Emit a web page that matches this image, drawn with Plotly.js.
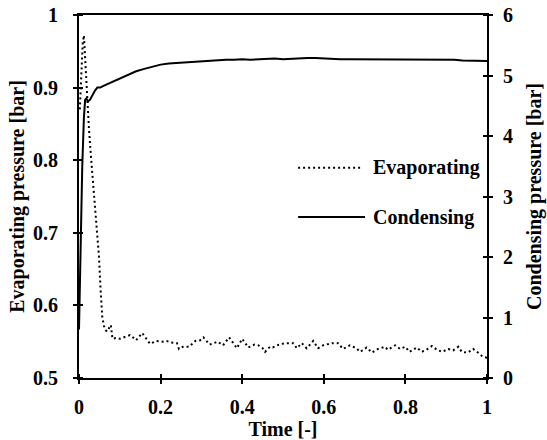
<!DOCTYPE html>
<html>
<head>
<meta charset="utf-8">
<script src="https://cdn.plot.ly/plotly-3.0.1.min.js"></script>
<style>html,body{margin:0;padding:0;background:#fff;}#chart{width:547px;height:440px;}</style>
</head>
<body>
<div id="chart"></div>
<script>
// Evaporating pressure [bar] (left axis)
const evapTime = [
  0.002, 0.006, 0.009, 0.012, 0.016, 0.020, 0.0245, 0.030, 0.037, 0.043,
  0.049, 0.053, 0.057, 0.061, 0.065, 0.069, 0.074, 0.078, 0.082, 0.090,
  0.100, 0.110, 0.125, 0.130, 0.140, 0.155, 0.174, 0.190, 0.205, 0.215,
  0.225, 0.240, 0.245, 0.255, 0.270, 0.285, 0.297, 0.305, 0.320, 0.340,
  0.353, 0.368, 0.387, 0.400, 0.415, 0.430, 0.440, 0.450, 0.456, 0.468,
  0.475, 0.490, 0.505, 0.525, 0.534, 0.546, 0.558, 0.574, 0.586, 0.598,
  0.610, 0.620, 0.635, 0.647, 0.664, 0.680, 0.689, 0.705, 0.718, 0.733,
  0.750, 0.757, 0.775, 0.787, 0.800, 0.810, 0.828, 0.840, 0.852, 0.865,
  0.877, 0.890, 0.905, 0.917, 0.930, 0.938, 0.953, 0.966, 0.978, 0.990,
  1.000
];
const evapPressure = [
  0.870, 0.930, 0.960, 0.972, 0.930, 0.883, 0.842, 0.800, 0.750, 0.710,
  0.667, 0.621, 0.584, 0.572, 0.566, 0.564, 0.568, 0.573, 0.554, 0.555,
  0.554, 0.556, 0.559, 0.557, 0.552, 0.562, 0.547, 0.551, 0.550, 0.551,
  0.549, 0.548, 0.540, 0.543, 0.543, 0.551, 0.552, 0.556, 0.546, 0.550,
  0.545, 0.556, 0.541, 0.554, 0.542, 0.546, 0.545, 0.541, 0.536, 0.543,
  0.542, 0.546, 0.548, 0.548, 0.541, 0.548, 0.541, 0.551, 0.541, 0.545,
  0.547, 0.548, 0.548, 0.540, 0.545, 0.541, 0.536, 0.542, 0.535, 0.540,
  0.543, 0.539, 0.545, 0.540, 0.543, 0.536, 0.542, 0.536, 0.539, 0.544,
  0.539, 0.536, 0.540, 0.538, 0.543, 0.536, 0.535, 0.540, 0.535, 0.529,
  0.528
];

// Condensing pressure [bar] (right axis)
const condTime = [
  0.000, 0.004, 0.008, 0.012, 0.015, 0.018, 0.022, 0.027, 0.033, 0.040,
  0.045, 0.052, 0.060, 0.070, 0.080, 0.100, 0.120, 0.140, 0.160, 0.180,
  0.200, 0.220, 0.240, 0.260, 0.280, 0.300, 0.320, 0.340, 0.360, 0.380,
  0.400, 0.420, 0.440, 0.460, 0.480, 0.500, 0.520, 0.540, 0.560, 0.580,
  0.600, 0.620, 0.640, 0.660, 0.680, 0.700, 0.720, 0.740, 0.760, 0.780,
  0.800, 0.820, 0.840, 0.860, 0.880, 0.900, 0.920, 0.940, 0.960, 0.980,
  1.000
];
const condPressure = [
  0.80, 2.20, 3.50, 4.30, 4.60, 4.62, 4.57, 4.60, 4.68, 4.76,
  4.80, 4.80, 4.83, 4.86, 4.90, 4.95, 5.01, 5.07, 5.11, 5.15,
  5.18, 5.20, 5.21, 5.22, 5.23, 5.24, 5.24, 5.25, 5.26, 5.26,
  5.27, 5.26, 5.27, 5.27, 5.28, 5.27, 5.28, 5.28, 5.29, 5.29,
  5.28, 5.28, 5.27, 5.27, 5.27, 5.26, 5.27, 5.26, 5.26, 5.27,
  5.26, 5.26, 5.27, 5.26, 5.27, 5.26, 5.26, 5.25, 5.25, 5.24,
  5.24
];

const xTicks = [0, 0.2, 0.4, 0.6, 0.8, 1];
const xTickText = ['0', '0.2', '0.4', '0.6', '0.8', '1'];
const yLeftTicks = [0.5, 0.6, 0.7, 0.8, 0.9, 1];
const yLeftTickText = ['0.5', '0.6', '0.7', '0.8', '0.9', '1'];
const yRightTicks = [0, 1, 2, 3, 4, 5, 6];
const yRightTickText = ['0', '1', '2', '3', '4', '5', '6'];
const seriesNames = ['Evaporating', 'Condensing'];

function F() { return {family: 'Liberation Serif', size: 20, color: '#000', weight: 'bold'}; }

// inner half of the cross-shaped ticks: minor ticks nudged off the major values
function innerTicks(vals) {
  const hi = Math.max.apply(null, vals);
  const eps = (hi - Math.min.apply(null, vals)) * 1e-7;
  return {ticks: 'inside', ticklen: 4, tickwidth: 2, tickcolor: '#000', showgrid: false,
    tickmode: 'array', tickvals: vals.map(v => v === hi ? v - eps : v + eps)};
}

const traces = [
  {x: evapTime, y: evapPressure, type: 'scatter', mode: 'lines', name: seriesNames[0],
   xaxis: 'x', yaxis: 'y', line: {color: '#000', width: 2, dash: '2px,3px'}, showlegend: false},
  {x: condTime, y: condPressure, type: 'scatter', mode: 'lines', name: seriesNames[1],
   xaxis: 'x', yaxis: 'y2', line: {color: '#000', width: 2}, showlegend: false}
];

function axis(extra) {
  return Object.assign({showgrid: false, zeroline: false, linecolor: '#000', linewidth: 2,
    tickcolor: '#000', tickwidth: 2, ticklen: 4, tickfont: F()}, extra);
}

const layout = {
  width: 547, height: 440,
  margin: {l: 79, r: 60, t: 15, b: 62},
  paper_bgcolor: '#fff', plot_bgcolor: '#fff',
  showlegend: false,
  xaxis: axis({
    range: [0, 1], tickmode: 'array', tickvals: xTicks, ticktext: xTickText, ticks: 'outside',
    showline: true, mirror: true, ticklabelstandoff: 6, minor: innerTicks(xTicks),
    title: {text: 'Time [-]', font: F(), standoff: 0}
  }),
  yaxis: axis({
    range: [0.5, 1], tickmode: 'array', tickvals: yLeftTicks, ticktext: yLeftTickText, ticks: 'outside',
    showline: true, ticklabelstandoff: 11, minor: innerTicks(yLeftTicks),
    title: {text: 'Evaporating pressure [bar]', font: F(), standoff: 3}
  }),
  yaxis2: axis({
    range: [0, 6], tickmode: 'array', tickvals: yRightTicks, ticktext: yRightTickText, ticks: 'outside',
    overlaying: 'y', side: 'right', anchor: 'x', showline: true, ticklabelstandoff: 6,
    minor: innerTicks(yRightTicks),
    title: {text: 'Condensing pressure [bar]', font: F(), standoff: 15}
  }),
  shapes: [
    {type: 'line', xref: 'paper', yref: 'paper', x0: 0.537, x1: 0.689, y0: 0.579, y1: 0.579,
     line: {color: '#000', width: 2, dash: '2px,3px'}},
    {type: 'line', xref: 'paper', yref: 'paper', x0: 0.537, x1: 0.701, y0: 0.4435, y1: 0.4435,
     line: {color: '#000', width: 2}}
  ],
  annotations: [
    {xref: 'paper', yref: 'paper', x: 0.716, y: 0.579, xanchor: 'left', yanchor: 'middle',
     text: seriesNames[0], showarrow: false, font: F()},
    {xref: 'paper', yref: 'paper', x: 0.716, y: 0.4435, xanchor: 'left', yanchor: 'middle',
     text: seriesNames[1], showarrow: false, font: F()}
  ]
};

Plotly.newPlot('chart', traces, layout, {staticPlot: true, displayModeBar: false});
</script>
</body>
</html>
